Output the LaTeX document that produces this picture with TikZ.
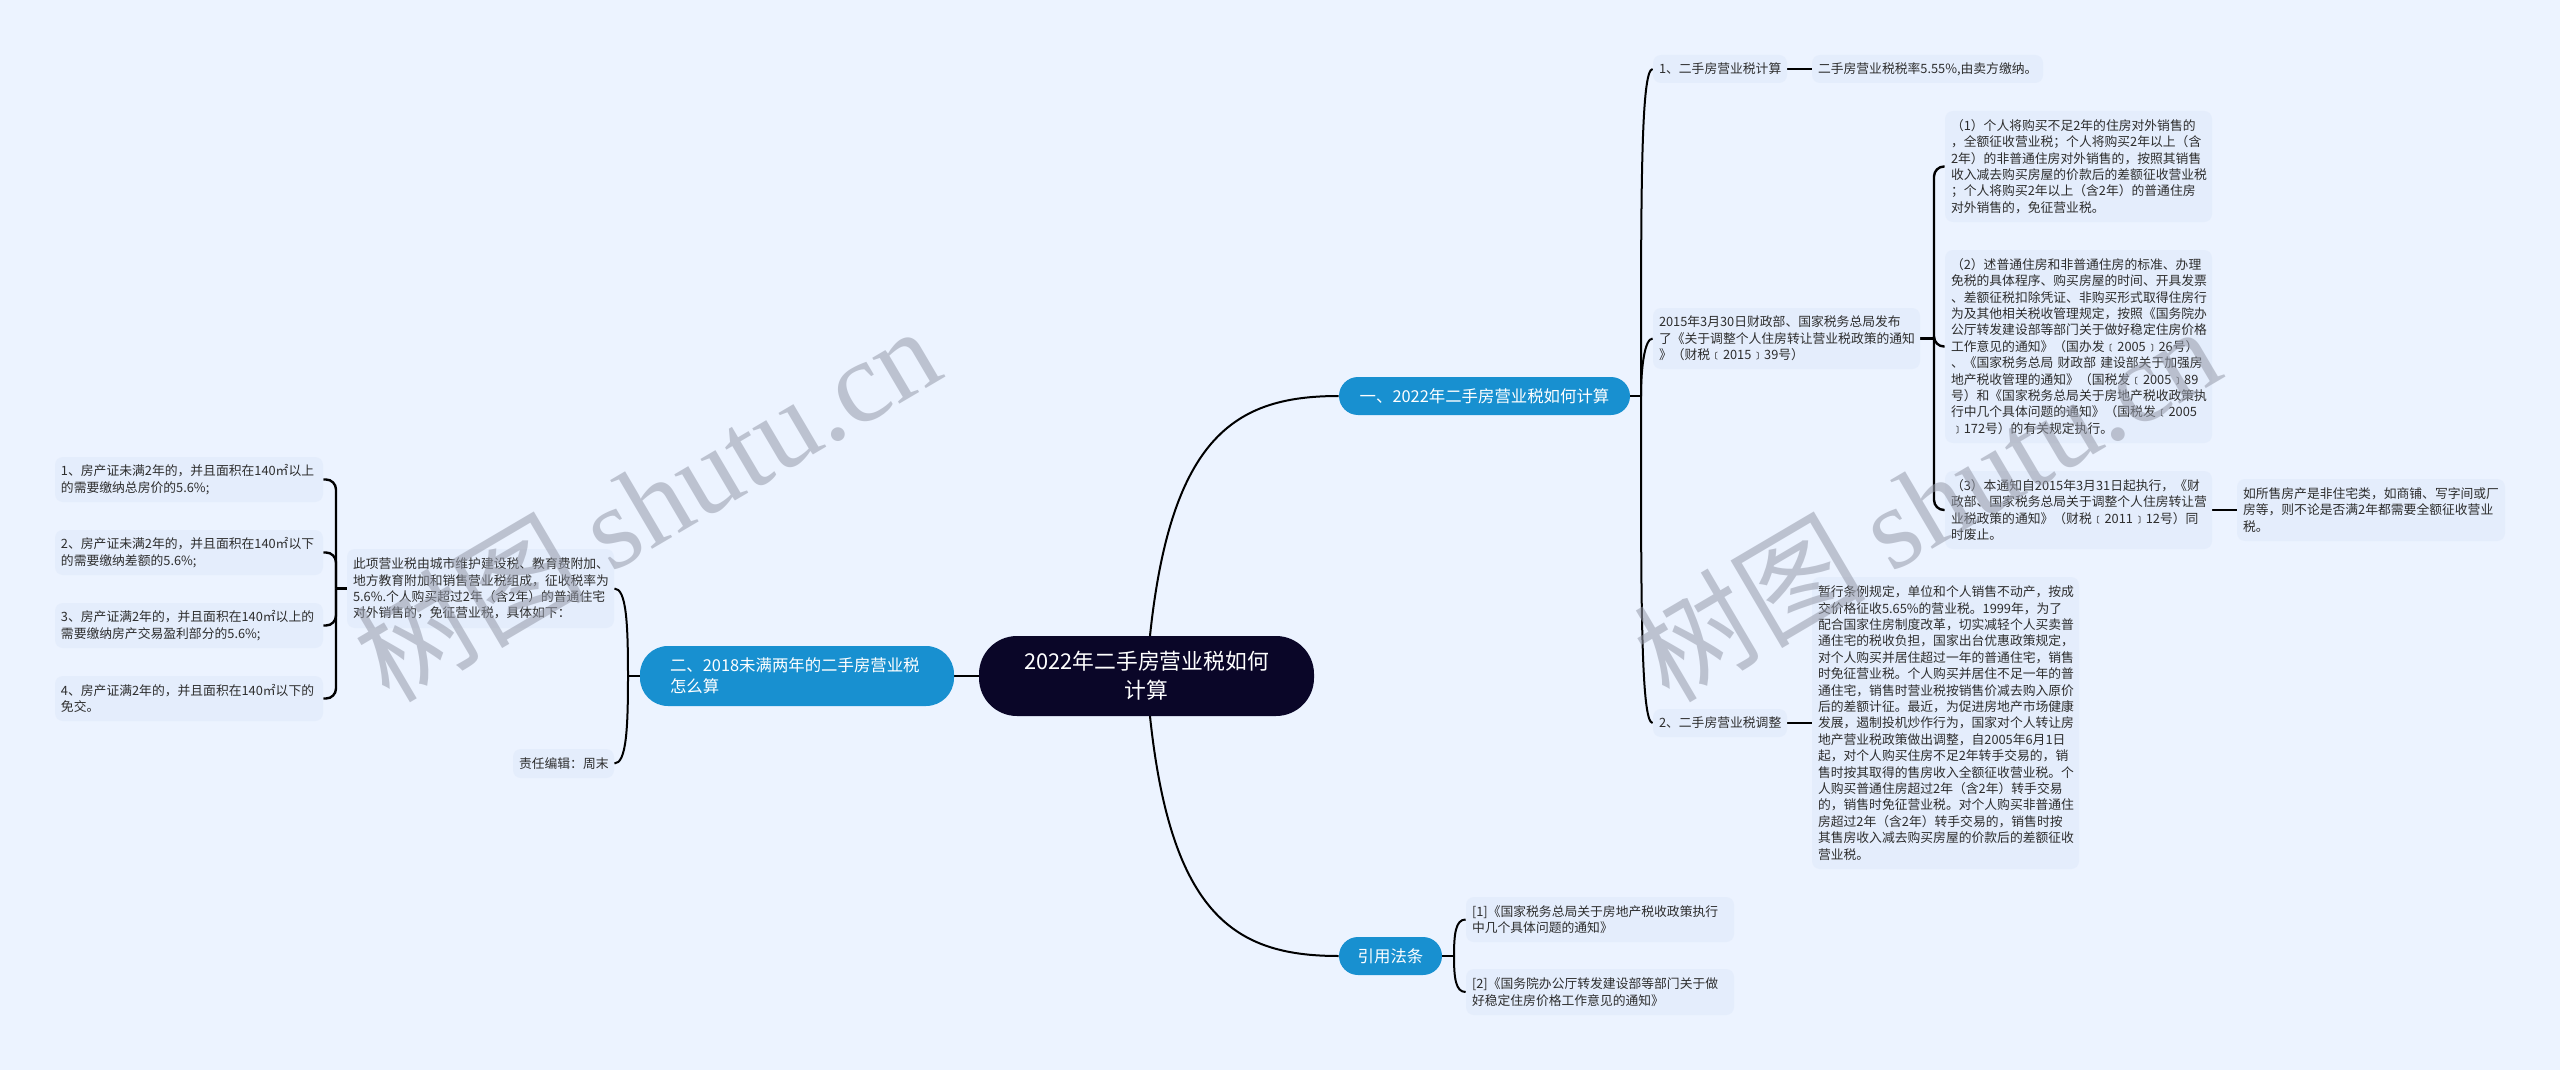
\documentclass[tikz,border=0pt]{standalone}
\usepackage{fontspec}
\setmainfont{Noto Sans CJK SC}
\newfontfamily\wmlatin{Liberation Serif}
\usetikzlibrary{backgrounds}
\definecolor{bgcol}{RGB}{236,243,255}
\definecolor{leafcol}{RGB}{228,237,252}
\definecolor{bluecol}{RGB}{24,144,208}
\definecolor{rootcol}{RGB}{10,6,40}
\definecolor{txtcol}{RGB}{45,45,45}
\definecolor{wmcol}{RGB}{150,155,170}
\tikzset{
  leaf/.style={fill=leafcol,rounded corners=4pt,inner sep=0pt,text=txtcol,align=left,
    font=\fontsize{6.4}{8.2}\selectfont},
  branch/.style={fill=bluecol,text=white,inner sep=0pt,align=left,
    font=\fontsize{8.2}{10.5}\selectfont},
  rootnode/.style={fill=rootcol,text=white,inner sep=0pt,align=center,rounded corners=19pt,
    font=\fontsize{10.9}{14.5}\selectfont},
  link/.style={draw=black,line width=1pt},
  thicklink/.style={draw=black,line width=1.2pt},
  wm/.style={text=wmcol,opacity=.55,rotate=30.5,anchor=base west,inner sep=0pt,
    font=\fontsize{58}{58}\selectfont},
}
\newcommand\bx[6]{%
  \pgfmathsetmacro\cxx{(#2+#4)/2}\pgfmathsetmacro\cyy{(#3+#5)/2}%
  \pgfmathsetmacro\ww{(#4-#2)*0.5}\pgfmathsetmacro\hh{(#5-#3)*0.5}\pgfmathsetmacro\tw{\ww-6}%
  \node[leaf,minimum width=\ww pt,minimum height=\hh pt,text width=\tw pt] (#1) at (\cxx,\cyy) {#6};}
\begin{document}
\begin{tikzpicture}[x=0.5pt,y=-0.5pt]
\useasboundingbox (0,0) rectangle (2560,1070);
% root
\node[rootnode,minimum width=167.5pt,minimum height=40pt] (root) at (1146.5,676) {2022年二手房营业税如何\\计算};
% branches
\node[branch,rounded corners=9.5pt,minimum width=145.5pt,minimum height=19pt,align=center] (b1) at (1484.5,396) {一、2022年二手房营业税如何计算};
\node[branch,rounded corners=14pt,minimum width=157pt,minimum height=30pt,text width=127pt] (b2) at (797,676) {二、2018未满两年的二手房营业税\\怎么算};
\node[branch,rounded corners=9.5pt,minimum width=51.5pt,minimum height=19pt,align=center] (b3) at (1390.5,956) {引用法条};
% right
\bx{r1}{1653}{55}{1787}{83}{1、二手房营业税计算}
\bx{r1a}{1812}{55}{2043}{83}{二手房营业税税率5.55\%,由卖方缴纳。}
\bx{r2}{1653}{308}{1920}{369}{2015年3月30日财政部、国家税务总局发布\\了《关于调整个人住房转让营业税政策的通知\\》（财税﹝2015﹞39号）}
\bx{r2a}{1945}{111}{2212}{222}{（1）个人将购买不足2年的住房对外销售的\\，全额征收营业税；个人将购买2年以上（含\\2年）的非普通住房对外销售的，按照其销售\\收入减去购买房屋的价款后的差额征收营业税\\；个人将购买2年以上（含2年）的普通住房\\对外销售的，免征营业税。}
\bx{r2b}{1945}{250}{2212}{443}{（2）述普通住房和非普通住房的标准、办理\\免税的具体程序、购买房屋的时间、开具发票\\、差额征税扣除凭证、非购买形式取得住房行\\为及其他相关税收管理规定，按照《国务院办\\公厅转发建设部等部门关于做好稳定住房价格\\工作意见的通知》（国办发﹝2005﹞26号）\\、《国家税务总局 财政部 建设部关于加强房\\地产税收管理的通知》（国税发﹝2005﹞89\\号）和《国家税务总局关于房地产税收政策执\\行中几个具体问题的通知》（国税发﹝2005\\﹞172号）的有关规定执行。}
\bx{r2c}{1945}{471}{2212}{549}{（3）本通知自2015年3月31日起执行，《财\\政部、国家税务总局关于调整个人住房转让营\\业税政策的通知》（财税﹝2011﹞12号）同\\时废止。}
\bx{r2d}{2237}{479}{2505}{541}{如所售房产是非住宅类，如商铺、写字间或厂\\房等，则不论是否满2年都需要全额征收营业\\税。}
\bx{r3}{1653}{709}{1787}{737}{2、二手房营业税调整}
\bx{r3a}{1812}{577}{2079}{869}{暂行条例规定，单位和个人销售不动产，按成\\交价格征收5.65\%的营业税。1999年，为了\\配合国家住房制度改革，切实减轻个人买卖普\\通住宅的税收负担，国家出台优惠政策规定，\\对个人购买并居住超过一年的普通住宅，销售\\时免征营业税。个人购买并居住不足一年的普\\通住宅，销售时营业税按销售价减去购入原价\\后的差额计征。最近，为促进房地产市场健康\\发展，遏制投机炒作行为，国家对个人转让房\\地产营业税政策做出调整，自2005年6月1日\\起，对个人购买住房不足2年转手交易的，销\\售时按其取得的售房收入全额征收营业税。个\\人购买普通住房超过2年（含2年）转手交易\\的，销售时免征营业税。对个人购买非普通住\\房超过2年（含2年）转手交易的，销售时按\\其售房收入减去购买房屋的价款后的差额征收\\营业税。}
% citations
\bx{c1}{1466}{897}{1734}{942}{[1]《国家税务总局关于房地产税收政策执行\\中几个具体问题的通知》}
\bx{c2}{1466}{969}{1734}{1015}{[2]《国务院办公厅转发建设部等部门关于做\\好稳定住房价格工作意见的通知》}
% left
\bx{l0}{347}{549}{614}{628}{此项营业税由城市维护建设税、教育费附加、\\地方教育附加和销售营业税组成，征收税率为\\5.6\%.个人购买超过2年（含2年）的普通住宅\\对外销售的，免征营业税，具体如下：}
\bx{l1}{55}{457}{323}{502}{1、房产证未满2年的，并且面积在140㎡以上\\的需要缴纳总房价的5.6\%;}
\bx{l2}{55}{530}{323}{575}{2、房产证未满2年的，并且面积在140㎡以下\\的需要缴纳差额的5.6\%;}
\bx{l3}{55}{603}{323}{648}{3、房产证满2年的，并且面积在140㎡以上的\\需要缴纳房产交易盈利部分的5.6\%;}
\bx{l4}{55}{676}{323}{721}{4、房产证满2年的，并且面积在140㎡以下的\\免交。}
\bx{l5}{513}{749}{614}{778}{责任编辑：周末}
% junction points
\coordinate (j1) at (1641,396);
\coordinate (j2) at (1934,338.5);
\coordinate (j3) at (628,676);
\coordinate (j4) at (336,588.5);
\coordinate (j5) at (1454,956);
% connectors
\begin{pgfonlayer}{background}
\fill[bgcol] (0,0) rectangle (2560,1070);
\draw[link] (root.center) .. controls (1163,440) and (1230,396) .. (b1.west);
\draw[link] (root.center) .. controls (1163,912) and (1230,956) .. (b3.west);
\draw[thicklink] (root.west) -- (b2.east);
\draw[thicklink] (b1.east) -- (j1);
\draw[link] (j1) to[out=90,in=180,out distance=98pt,in distance=6pt] (r1.west);
\draw[link] (j1) to[out=90,in=180,out distance=14pt,in distance=4pt] (r2.west);
\draw[link] (j1) to[out=-90,in=180,out distance=98pt,in distance=6pt] (r3.west);
\draw[thicklink] (r1.east) -- (r1a.west);
\draw[thicklink] (r3.east) -- (r3a.west);
\draw[thicklink] (r2.east) -- (j2);
\draw[thicklink,rounded corners=5pt] (j2) |- (r2a.west);
\draw[thicklink,rounded corners=5pt] (j2) |- (r2b.west);
\draw[thicklink,rounded corners=5pt] (j2) |- (r2c.west);
\draw[thicklink] (r2c.east) -- (r2d.west);
\draw[thicklink] (b2.west) -- (j3);
\draw[link] (j3) to[out=90,in=0,out distance=26pt,in distance=6pt] (l0.east);
\draw[link] (j3) to[out=-90,in=0,out distance=26pt,in distance=6pt] (l5.east);
\draw[thicklink] (l0.west) -- (j4);
\draw[thicklink,rounded corners=5pt] (j4) |- (l1.east);
\draw[thicklink,rounded corners=5pt] (j4) |- (l2.east);
\draw[thicklink,rounded corners=5pt] (j4) |- (l3.east);
\draw[thicklink,rounded corners=5pt] (j4) |- (l4.east);
\draw[thicklink] (b3.east) -- (j5);
\draw[link] (j5) to[out=90,in=180,out distance=11pt,in distance=5pt] (c1.west);
\draw[link] (j5) to[out=-90,in=180,out distance=11pt,in distance=5pt] (c2.west);
\end{pgfonlayer}
% watermarks
\node[wm] (w1) at (389,705) {树图 {\wmlatin shutu.cn}};
\node[wm] (w2) at (1669,705) {树图 {\wmlatin shutu.cn}};
\end{tikzpicture}
\end{document}
